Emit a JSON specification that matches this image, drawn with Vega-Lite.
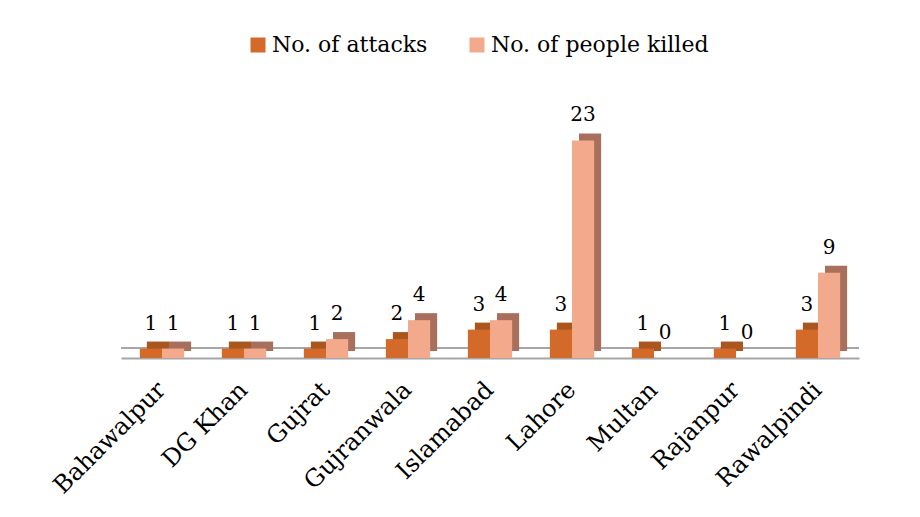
{
  "$schema": "https://vega.github.io/schema/vega-lite/v6.json",
  "width": 738,
  "height": 298,
  "autosize": "none",
  "padding": {"left": 121, "top": 60, "right": 61, "bottom": 159},
  "background": "white",
  "config": {
    "view": {"stroke": null},
    "font": "DejaVu Serif",
    "legend": {"labelFont": "DejaVu Serif", "labelFontSize": 22, "labelColor": "black", "symbolSize": 225, "symbolType": "square", "symbolStrokeWidth": 0, "labelLimit": 400},
    "text": {"font": "DejaVu Serif"}
  },
  "data": {"values": [
    {"city": "Bahawalpur", "series": "No. of attacks", "value": 1},
    {"city": "Bahawalpur", "series": "No. of people killed", "value": 1},
    {"city": "DG Khan", "series": "No. of attacks", "value": 1},
    {"city": "DG Khan", "series": "No. of people killed", "value": 1},
    {"city": "Gujrat", "series": "No. of attacks", "value": 1},
    {"city": "Gujrat", "series": "No. of people killed", "value": 2},
    {"city": "Gujranwala", "series": "No. of attacks", "value": 2},
    {"city": "Gujranwala", "series": "No. of people killed", "value": 4},
    {"city": "Islamabad", "series": "No. of attacks", "value": 3},
    {"city": "Islamabad", "series": "No. of people killed", "value": 4},
    {"city": "Lahore", "series": "No. of attacks", "value": 3},
    {"city": "Lahore", "series": "No. of people killed", "value": 23},
    {"city": "Multan", "series": "No. of attacks", "value": 1},
    {"city": "Multan", "series": "No. of people killed", "value": 0},
    {"city": "Rajanpur", "series": "No. of attacks", "value": 1},
    {"city": "Rajanpur", "series": "No. of people killed", "value": 0},
    {"city": "Rawalpindi", "series": "No. of attacks", "value": 3},
    {"city": "Rawalpindi", "series": "No. of people killed", "value": 9}
  ]},
  "encoding": {
    "x": {
      "field": "city", "type": "nominal", "sort": null,
      "scale": {"paddingInner": 0.46, "paddingOuter": 0.23},
      "axis": {
        "title": null, "ticks": false, "labelAngle": -45, "labelAlign": "right",
        "labelBaseline": "middle", "labelPadding": 28, "labelFontSize": 24,
        "labelFont": "DejaVu Serif", "labelColor": "black",
        "domainColor": "#A6A6A6", "domainWidth": 2
      }
    },
    "y": {"field": "value", "type": "quantitative", "scale": {"domain": [0, 31.5]}, "axis": null}
  },
  "layer": [
    {
      "mark": {"type": "rule", "color": "#A6A6A6", "strokeWidth": 2, "yOffset": -10},
      "encoding": {"y": {"datum": 0}, "x": null}
    },
    {
      "mark": {"type": "bar", "yOffset": -7, "y2Offset": -7},
      "encoding": {
        "xOffset": {"field": "series", "type": "nominal", "sort": ["No. of attacks", "No. of people killed"], "scale": {"range": [7, 51.28]}},
        "color": {"field": "series", "type": "nominal", "scale": {"domain": ["No. of attacks", "No. of people killed"], "range": ["#A9561F", "#A8705C"]}, "legend": null}
      }
    },
    {
      "mark": {"type": "bar"},
      "encoding": {
        "xOffset": {"field": "series", "type": "nominal", "sort": ["No. of attacks", "No. of people killed"]},
        "color": {
          "field": "series", "type": "nominal",
          "scale": {"domain": ["No. of attacks", "No. of people killed"], "range": ["#D46A2A", "#F3A98B"]},
          "legend": {
            "title": null, "orient": "none", "legendX": 126, "legendY": -26,
            "direction": "horizontal", "symbolType": "square", "symbolSize": 225,
            "symbolStrokeWidth": 0, "labelFontSize": 22, "labelFont": "DejaVu Serif",
            "labelColor": "black", "labelOffset": 3, "columnPadding": 38
          }
        }
      }
    },
    {
      "mark": {"type": "text", "dy": -15, "fontSize": 20, "font": "DejaVu Serif", "color": "black", "baseline": "bottom"},
      "encoding": {
        "xOffset": {"field": "series", "type": "nominal", "sort": ["No. of attacks", "No. of people killed"]},
        "text": {"field": "value", "type": "quantitative"}
      }
    }
  ],
  "resolve": {"scale": {"color": "independent", "xOffset": "independent"}, "legend": {"color": "independent"}}
}
